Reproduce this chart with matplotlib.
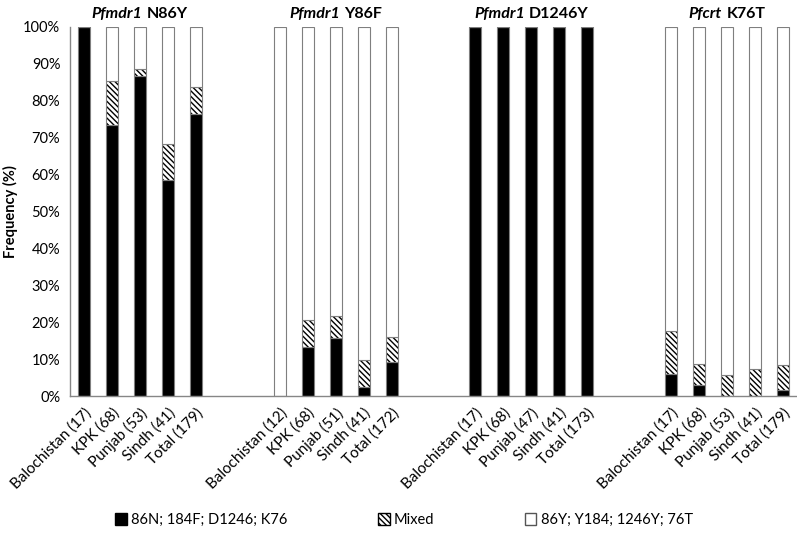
import numpy as np
import matplotlib.pyplot as plt
from matplotlib.patches import Patch
from matplotlib.offsetbox import TextArea, HPacker, AnnotationBbox

plt.rcParams['font.family'] = ['Lato', 'DejaVu Sans']
plt.rcParams['hatch.linewidth'] = 1.0

genes = ['Pfmdr1', 'Pfmdr1', 'Pfmdr1', 'Pfcrt']
mutations = ['N86Y', 'Y86F', 'D1246Y', 'K76T']
sites = ['Balochistan', 'KPK', 'Punjab', 'Sindh', 'Total']
counts = [[17, 68, 53, 41, 179],
          [12, 68, 51, 41, 172],
          [17, 68, 47, 41, 173],
          [17, 68, 53, 41, 179]]

# % wild type / mixed per site
wild = [[100, 73.5, 86.8, 58.5, 76.5],
        [0, 13.2, 15.7, 2.4, 9.3],
        [100, 100, 100, 100, 100],
        [5.9, 2.9, 0, 0, 1.7]]
mixed = [[0, 11.8, 1.9, 9.8, 7.3],
         [0, 7.4, 5.9, 7.4, 6.7],
         [0, 0, 0, 0, 0],
         [11.7, 5.9, 5.7, 7.3, 6.7]]

legend_labels = ['86N; 184F; D1246; K76', 'Mixed', '86Y; Y184; 1246Y; 76T']

fig = plt.figure(figsize=(7.97, 5.37), dpi=100)
ax = fig.add_axes([70 / 797, 141 / 537, 727 / 797, 369 / 537])

edge = '#7f7f7f'
hatch = '\\' * 6
w = 0.43
step = 7  # 5 bars + 2 empty slots
xticks, xlabels = [], []
for g in range(4):
    x = np.arange(5) + g * step
    wt = np.array(wild[g])
    mx = np.array(mixed[g])
    mut = 100 - wt - mx
    ax.bar(x, wt, w, color='black', edgecolor=edge, linewidth=0.8)
    ax.bar(x, mx, w, bottom=wt, color='white', edgecolor='black', hatch=hatch,
           linewidth=0)
    ax.bar(x, mx, w, bottom=wt, color='none', edgecolor=edge, linewidth=0.8)
    ax.bar(x, mut, w, bottom=wt + mx, color='white', edgecolor=edge, linewidth=0.8)
    xticks += list(x)
    xlabels += ['%s (%d)' % (s, n) for s, n in zip(sites, counts[g])]

    title = HPacker(children=[
        TextArea(genes[g], textprops=dict(style='italic', weight='bold', size=11.5)),
        TextArea(mutations[g], textprops=dict(weight='bold', size=11.5))],
        pad=0, sep=3, align='baseline')
    ab = AnnotationBbox(title, (g * step + 2, 100), xybox=(0, 4),
                        boxcoords='offset points', box_alignment=(0.5, 0),
                        frameon=False, annotation_clip=False)
    ax.add_artist(ab)

ax.set_xlim(-0.5, 3 * step + 4.5)
ax.set_ylim(0, 100)
ax.set_yticks(np.arange(0, 101, 10))
ax.set_yticklabels(['%d%%' % v for v in range(0, 101, 10)], fontsize=10.5)
ax.set_xticks(xticks)
ax.set_xticklabels(xlabels, rotation=45, ha='right', rotation_mode='anchor',
                   fontsize=11)
ax.tick_params(axis='y', length=0, pad=7)
ax.tick_params(axis='x', length=0, pad=7)
ax.set_ylabel('Frequency (%)', fontweight='bold', fontsize=10.5, labelpad=4)

for s in ['top', 'right']:
    ax.spines[s].set_visible(False)
for s in ['left', 'bottom']:
    ax.spines[s].set_color('#868686')
    ax.spines[s].set_linewidth(1)

handles = [Patch(facecolor='black', edgecolor='black'),
           Patch(facecolor='white', edgecolor='black', hatch=hatch),
           Patch(facecolor='white', edgecolor='#555555')]
fig.legend(handles, legend_labels, loc='center', ncol=3, frameon=False,
           bbox_to_anchor=(404 / 797, 1 - 520 / 537), fontsize=10.5,
           handlelength=0.8, handleheight=0.8, handletextpad=0.3,
           columnspacing=6.2)

fig.savefig('out.png', dpi=100)
